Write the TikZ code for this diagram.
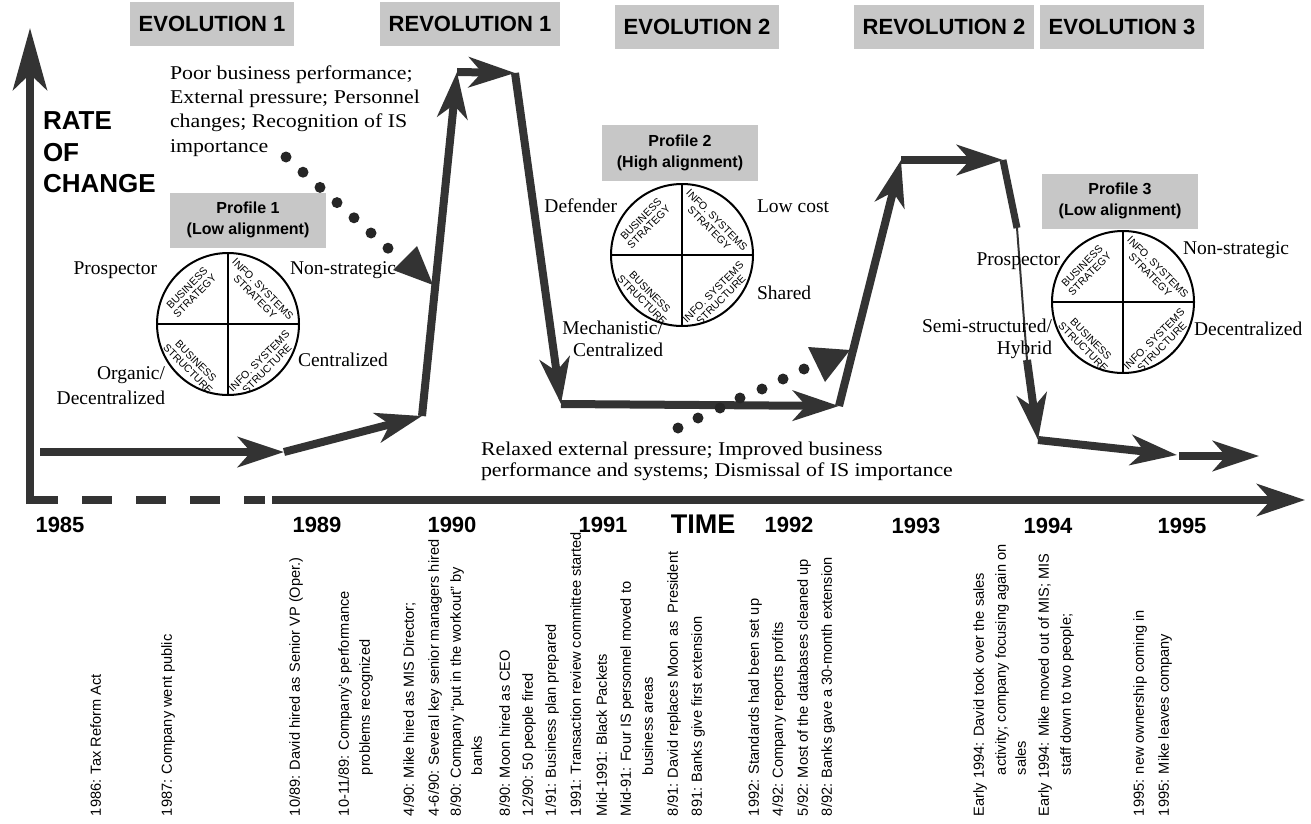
\documentclass[tikz,border=0pt]{standalone}
\usepackage{fontspec}
\setmainfont{Liberation Serif}
\setsansfont{Liberation Sans}
\newfontfamily\antiq[FakeStretch=1.12]{Liberation Serif}
\usetikzlibrary{arrows.meta,calc}
\definecolor{ink}{gray}{0.2}
\definecolor{boxgray}{gray}{0.78}
\newcommand\quadlabels[1]{%
  \node[quad, rotate=45]  (#1a) at ($(#1)+(-37,-32)$) {BUSINESS\\STRATEGY};
  \node[quad, rotate=-45] (#1b) at ($(#1)+(31,-31)$) {INFO. SYSTEMS\\STRATEGY};
  \node[quad, rotate=-45] (#1c) at ($(#1)+(-36,41)$) {BUSINESS\\STRUCTURE};
  \node[quad, rotate=45]  (#1d) at ($(#1)+(35,41)$) {INFO. SYSTEMS\\STRUCTURE};
  \draw[line width=2pt] (#1.north) -- (#1.south);
  \draw[line width=2pt] (#1.west) -- (#1.east);}
\begin{document}
\begin{tikzpicture}[x=1pt,y=-1pt,
  every node/.style={inner sep=0pt, outer sep=0pt},
  axisln/.style={line width=8pt, draw=ink},
  trend/.style={line width=8pt, draw=ink, -{Stealth[length=46pt,width=30pt,inset=13pt]}},
  hdrbox/.style={fill=boxgray, inner xsep=9pt, minimum height=44pt, font=\sffamily\bfseries\fontsize{22}{24}\selectfont},
  profbox/.style={fill=boxgray, align=center, minimum width=156pt, minimum height=55pt, font=\sffamily\bfseries\fontsize{16}{21}\selectfont},
  circ/.style={circle, draw=black, line width=2pt, minimum size=142pt},
  quad/.style={align=center, font=\sffamily\fontsize{10.5}{11}\selectfont},
  cl/.style={text height=13.5pt, text depth=4pt, font=\fontsize{19.5}{22}\selectfont},
  para/.style={anchor=base west, font=\antiq\fontsize{19.5}{24}\selectfont},
  event/.style={rotate=90, anchor=west, text height=10.8pt, text depth=3pt, font=\sffamily\fontsize{14.6}{16}\selectfont},
  yearlbl/.style={font=\sffamily\bfseries\fontsize{22}{24}\selectfont},
  dotc/.style={fill=black!85}]
\useasboundingbox[fill=white] (0,0) rectangle (1311,824);

% headers
\node[hdrbox] (h1) at (212,24) {EVOLUTION 1};
\node[hdrbox] (h2) at (470,24) {REVOLUTION 1};
\node[hdrbox] (h3) at (697,27) {EVOLUTION 2};
\node[hdrbox] (h4) at (944,27) {REVOLUTION 2};
\node[hdrbox] (h5) at (1122,27) {EVOLUTION 3};

% axes
\coordinate (ybot) at (30,504);
\coordinate (ytip) at (30,28);
\coordinate (xd0) at (28,500);
\coordinate (xd1) at (265,500);
\coordinate (xs0) at (272,500);
\coordinate (xtip) at (1305,500);
\draw[axisln, -{Stealth[length=62pt,width=34pt,inset=16pt]}] (ybot) -- (ytip);
\draw[axisln, dash pattern=on 30pt off 24pt] (xd0) -- (xd1);
\draw[axisln, -{Stealth[length=48pt,width=32pt,inset=14pt]}] (xs0) -- (xtip);

\node[anchor=base west, font=\sffamily\bfseries\fontsize{26}{28}\selectfont] (r1) at (43,130) {RATE};
\node[anchor=base west, font=\sffamily\bfseries\fontsize{26}{28}\selectfont] (r2) at (43,161) {OF};
\node[anchor=base west, font=\sffamily\bfseries\fontsize{26}{28}\selectfont] (r3) at (43,192) {CHANGE};

% trend path
\coordinate (a0) at (40,452);
\coordinate (a1) at (284,452);
\coordinate (a2) at (422,416);
\coordinate (a3) at (457,72);
\coordinate (a4) at (515,73);
\coordinate (a5) at (561,404);
\coordinate (a6) at (839,406);
\coordinate (a7) at (901,160);
\coordinate (a8) at (1003,160);
\coordinate (a9) at (1017,228);
\coordinate (a10) at (1027,360);
\coordinate (a11) at (1038,440);
\coordinate (a12) at (1177,455);
\coordinate (a13) at (1179,456);
\coordinate (a14) at (1259,456);
\draw[trend] (a0) -- (a1);
\draw[trend] (a1) -- (a2);
\draw[trend] (a2) -- (a3);
\draw[trend] (a3) -- (a4);
\draw[trend] (a4) -- (a5);
\draw[trend] (a5) -- (a6);
\draw[trend] (a6) -- (a7);
\draw[trend] (a7) -- (a8);
\draw[line width=7pt, draw=ink] (a8) -- (a9);
\draw[line width=2pt, draw=ink] (a9) -- (a10);
\draw[trend] (a10) -- (a11);
\draw[trend] (a11) -- (a12);
\draw[trend] (a13) -- (a14);

% dotted triggers
\foreach \i in {0,...,6} \fill[dotc] ({286+17*\i},{157+15.2*\i}) circle[radius=5.5pt];
\fill[ink] (393,270) -- (417,246) -- (433,285) -- cycle;
\foreach \p in {(678,428),(698,418),(720,408),(740,398),(762,389),(783,379),(804,369)} \fill[dotc] \p circle[radius=5.5pt];
\fill[ink] (808,347) -- (850,350) -- (825,382) -- cycle;

\node[para] (t1) at (170,80) {Poor business performance;};
\node[para] (t2) at (170,104) {External pressure; Personnel};
\node[para] (t3) at (170,128) {changes; Recognition of IS};
\node[para] (t4) at (170,152) {importance};
\node[para] (t5) at (481,455) {Relaxed external pressure; Improved business};
\node[para] (t6) at (481,476) {performance and systems; Dismissal of IS importance};

% profiles
\node[profbox] (pb1) at (248,220) {Profile 1\\(Low alignment)};
\node[profbox] (pb2) at (680,153) {Profile 2\\(High alignment)};
\node[profbox] (pb3) at (1120,201) {Profile 3\\(Low alignment)};
\node[circ] (c1) at (228,324) {};
\node[circ] (c2) at (682,255) {};
\node[circ] (c3) at (1123,302) {};
\quadlabels{c1}
\quadlabels{c2}
\quadlabels{c3}

\node[cl, anchor=east] (l1) at (157,270) {Prospector};
\node[cl, anchor=west] (l2) at (290,270) {Non-strategic};
\node[cl, anchor=west] (l3) at (298,362) {Centralized};
\node[cl, anchor=east] (l4) at (165,375) {Organic/};
\node[cl, anchor=east] (l5) at (165,400) {Decentralized};
\node[cl, anchor=east] (l6) at (617,208) {Defender};
\node[cl, anchor=west] (l7) at (757,208) {Low cost};
\node[cl, anchor=west] (l8) at (757,295) {Shared};
\node[cl, anchor=east] (l9) at (663,330) {Mechanistic/};
\node[cl, anchor=east] (l10) at (663,352) {Centralized};
\node[cl, anchor=east] (l11) at (1060,261) {Prospector};
\node[cl, anchor=west] (l12) at (1183,250) {Non-strategic};
\node[cl, anchor=east] (l13) at (1052,328) {Semi-structured/};
\node[cl, anchor=east] (l14) at (1052,350) {Hybrid};
\node[cl, anchor=west] (l15) at (1194,331) {Decentralized};

% years
\node[yearlbl] (y85) at (60,525) {1985};
\node[yearlbl] (y89) at (317,525) {1989};
\node[yearlbl] (y90) at (452,525) {1990};
\node[yearlbl] (y91) at (603,525) {1991};
\node[font=\sffamily\bfseries\fontsize{27}{28}\selectfont] (tm) at (703,524) {TIME};
\node[yearlbl] (y92) at (789,525) {1992};
\node[yearlbl] (y93) at (916,526) {1993};
\node[yearlbl] (y94) at (1048,526) {1994};
\node[yearlbl] (y95) at (1182,526) {1995};

% events
\node[event] (e1) at (97,816) {1986: Tax Reform Act};
\node[event] (e2) at (168,816) {1987: Company went public};
\node[event] (e3) at (296,816) {10/89: David hired as Senior VP (Oper.)};
\node[event] (e4) at (345,816) {10-11/89: Company's performance};
\node[event] (e5) at (366,775) {problems recognized};
\node[event] (e6) at (410,816) {4/90: Mike hired as MIS Director;};
\node[event] (e7) at (435,816) {4-6/90: Several key senior managers hired};
\node[event] (e8) at (457,816) {8/90: Company “put in the workout” by};
\node[event] (e9) at (478,775) {banks};
\node[event] (e10) at (506,816) {8/90: Moon hired as CEO};
\node[event] (e11) at (529,816) {12/90: 50 people fired};
\node[event] (e12) at (552,816) {1/91: Business plan prepared};
\node[event] (e13) at (577,816) {1991: Transaction review committee started};
\node[event] (e14) at (603,816) {Mid-1991: Black Packets};
\node[event] (e15) at (627,816) {Mid-91: Four IS personnel moved to};
\node[event] (e16) at (649,775) {business areas};
\node[event] (e17) at (674,816) {8/91: David replaces Moon as\ \ President};
\node[event] (e18) at (698,816) {891: Banks give first extension};
\node[event] (e19) at (755,816) {1992: Standards had been set up};
\node[event] (e20) at (779,816) {4/92: Company reports profits};
\node[event] (e21) at (804,816) {5/92: Most of the databases cleaned up};
\node[event] (e22) at (828,816) {8/92: Banks gave a 30-month extension};
\node[event] (e23) at (980,816) {Early 1994: David took over the sales};
\node[event] (e24) at (1002,775) {activity; company focusing again on};
\node[event] (e25) at (1022,775) {sales};
\node[event] (e26) at (1045,816) {Early 1994: Mike moved out of MIS; MIS};
\node[event] (e27) at (1067,775) {staff down to two people;};
\node[event] (e28) at (1140,816) {1995: new ownership coming in};
\node[event] (e29) at (1165,816) {1995: Mike leaves company};
\end{tikzpicture}
\end{document}
